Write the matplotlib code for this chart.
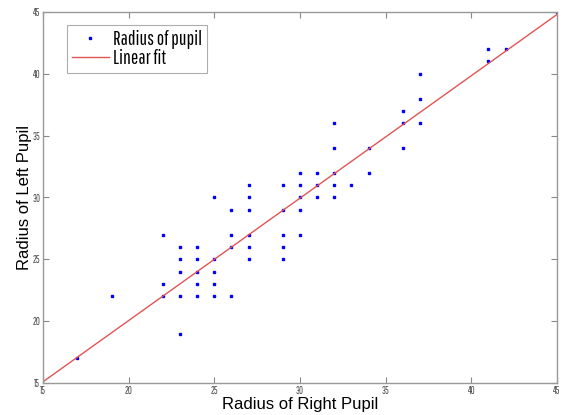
import numpy as np
import matplotlib
matplotlib.use("Agg")
import matplotlib.pyplot as plt

# Data (right pupil radius, left pupil radius)
right_pupil = [17, 19, 22, 22, 22, 23, 23, 23, 23, 23,
               24, 24, 24, 24, 24, 25, 25, 25, 25, 25,
               26, 26, 26, 26, 27, 27, 27, 27, 27, 27,
               29, 29, 29, 29, 29, 30, 30, 30, 30, 30,
               31, 31, 31, 32, 32, 32, 32, 32, 33, 34, 34,
               36, 36, 36, 37, 37, 37, 41, 41, 42, 45]
left_pupil = [17, 22, 27, 23, 22, 26, 25, 24, 22, 19,
              26, 25, 24, 23, 22, 30, 25, 24, 23, 22,
              29, 27, 26, 22, 31, 30, 29, 27, 26, 25,
              31, 29, 27, 26, 25, 32, 31, 30, 29, 27,
              32, 31, 30, 36, 34, 32, 31, 30, 31, 34, 32,
              37, 36, 34, 40, 38, 36, 42, 41, 42, 45]
fit_x = [15, 45]
fit_y = [15.1, 44.8]
ticks = [15, 20, 25, 30, 35, 40, 45]

narrow = ['Pathway Gothic One', 'DejaVu Sans']

fig = plt.figure(figsize=(5.63, 4.15), dpi=100)
ax = fig.add_axes([43/563, 1 - 383/415, 514/563, 371/415])

ax.plot(right_pupil, left_pupil, linestyle='none', marker='s', markersize=1.9,
        color='#0000ff', label='Radius of pupil')
ax.plot(fit_x, fit_y, color='#e05555', linewidth=1.0, label='Linear fit')

ax.set_xlim(15, 45)
ax.set_ylim(15, 45)
ax.set_xticks(ticks)
ax.set_yticks(ticks)
ax.set_xticklabels([str(t) for t in ticks], family=narrow, fontsize=7, color='#444444')
ax.set_yticklabels([str(t) for t in ticks], family=narrow, fontsize=7, color='#444444')
ax.tick_params(direction='in', length=4, width=0.8, color='#888888',
               top=True, right=True, pad=2)
for s in ax.spines.values():
    s.set_color('#999999')
    s.set_linewidth(1.0)

ax.set_xlabel('Radius of Right Pupil', fontsize=12, family='Liberation Sans', labelpad=1)
ax.set_ylabel('Radius of Left Pupil', fontsize=12, family='Liberation Sans', labelpad=0)

leg = ax.legend(loc='upper left', bbox_to_anchor=(23.7/514, 1 - 13/371),
                prop={'family': narrow, 'size': 14}, frameon=True, fancybox=False,
                borderpad=0.25, handlelength=1.9, handletextpad=0.25, labelspacing=0.0,
                borderaxespad=0, markerscale=1.0)
leg.get_frame().set_edgecolor('#999999')
leg.get_frame().set_linewidth(0.8)

fig.savefig('out.png', dpi=100)
